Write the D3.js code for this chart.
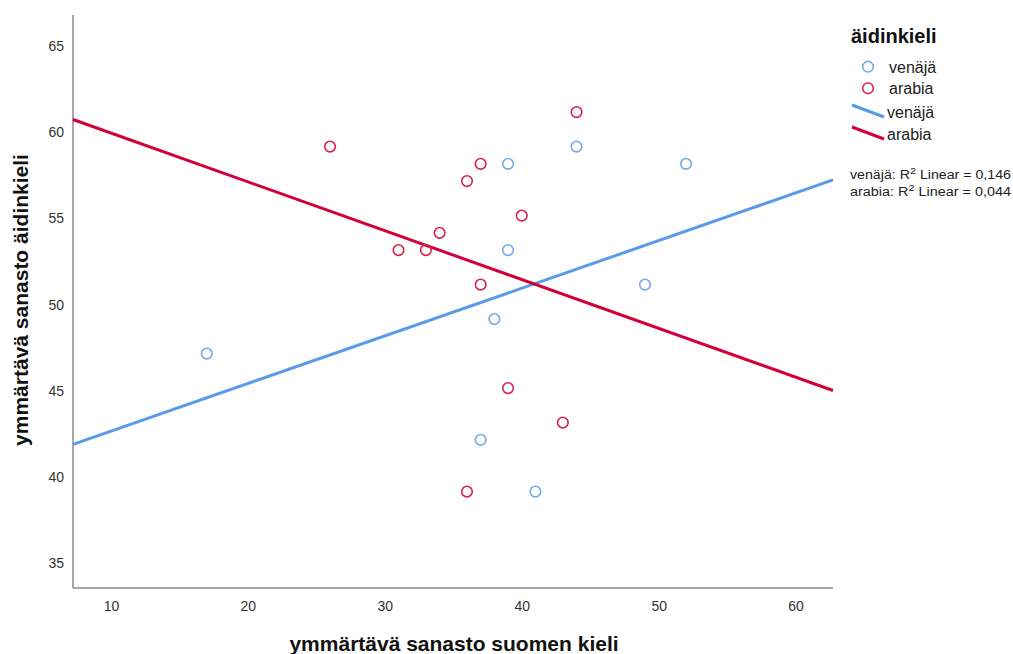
<!DOCTYPE html>
<html><head><meta charset="utf-8">
<script src="https://cdn.jsdelivr.net/npm/d3@7"></script>
<style>body{margin:0;background:#fff}svg{font-family:"Liberation Sans",Arial,sans-serif}</style>
</head><body>
<svg id="c" width="1013" height="654"></svg>
<script>
const venajaX = [17,37,38,39,39,41,44,49,52];
const venajaY = [47,42,49,53,58,39,59,51,58];
const arabiaX = [26,31,33,34,36,37,37,40,44,39,43,36];
const arabiaY = [59,53,53,54,57,58,51,55,61,45,43,39];
const xTicks = [10,20,30,40,50,60];
const yTicks = [35,40,45,50,55,60,65];
const groups = ["venäjä","arabia"];
const r2Labels = ["0,146","0,044"];

const svg = d3.select("#c");
const L=73, R=833, T=15, B=588;
const x = d3.scaleLinear().domain([7.23,62.73]).range([L,R]);
const y = d3.scaleLinear().domain([33.41,66.63]).range([B,T]);
const ptCol = ["#78a8ee","#d9244b"];
const lnCol = ["#5a9ae8","#d2003a"];

function fit(xs,ys){
  const n=xs.length, mx=d3.mean(xs), my=d3.mean(ys);
  let sxy=0,sxx=0;
  for(let i=0;i<n;i++){sxy+=(xs[i]-mx)*(ys[i]-my);sxx+=(xs[i]-mx)**2;}
  const b=sxy/sxx; return {b, a:my-b*mx};
}

// axes
const xAxis = d3.axisBottom(x).tickValues(xTicks).tickSize(0).tickPadding(13);
const yAxis = d3.axisLeft(y).tickValues(yTicks).tickSize(0).tickPadding(9);
const gx = svg.append("g").attr("transform",`translate(0,${B})`).call(xAxis);
const gy = svg.append("g").attr("transform",`translate(${L},0)`).call(yAxis);
[gx,gy].forEach(g=>{
  g.select(".domain").attr("stroke","#8a8a8a").attr("stroke-width",1.5);
  g.selectAll("text").attr("font-size",14).attr("fill","#333").attr("font-family","Liberation Sans, Arial, sans-serif");
});
gy.selectAll("text").attr("dy","0.52em");
gy.select(".domain").attr("d",`M0,${T}V${B}`);
gx.select(".domain").attr("d",`M${L},0H${R}`);

const sets=[[venajaX,venajaY],[arabiaX,arabiaY]];
// lines
sets.forEach((s,i)=>{
  const f=fit(s[0],s[1]);
  const d0=x.domain();
  svg.append("line").attr("x1",x(d0[0])).attr("y1",y(f.a+f.b*d0[0]))
    .attr("x2",x(d0[1])).attr("y2",y(f.a+f.b*d0[1]))
    .attr("stroke",lnCol[i]).attr("stroke-width",3);
});
// points
sets.forEach((s,i)=>{
  svg.append("g").selectAll("circle").data(s[0].map((v,j)=>[v,s[1][j]])).join("circle")
    .attr("cx",d=>x(d[0])).attr("cy",d=>y(d[1])).attr("r",5.3)
    .attr("fill","none").attr("stroke",ptCol[i]).attr("stroke-width",1.6);
});

// axis titles
svg.append("text").attr("x",454).attr("y",651).attr("text-anchor","middle")
  .attr("font-size",21).attr("font-weight","bold").attr("fill","#111").text("ymmärtävä sanasto suomen kieli");
svg.append("text").attr("transform","translate(28,300) rotate(-90)").attr("text-anchor","middle")
  .attr("font-size",21).attr("font-weight","bold").attr("fill","#111").text("ymmärtävä sanasto äidinkieli");

// legend
svg.append("text").attr("x",851).attr("y",43).attr("font-size",20).attr("font-weight","bold").attr("fill","#111").text("äidinkieli");
groups.forEach((g,i)=>{
  const yy=66.7+i*21.6;
  svg.append("circle").attr("cx",868).attr("cy",yy).attr("r",5.3).attr("fill","none").attr("stroke",ptCol[i]).attr("stroke-width",1.6);
  svg.append("text").attr("x",889).attr("y",yy+6).attr("font-size",16).attr("fill","#222").text(g);
});
groups.forEach((g,i)=>{
  const yy=117.5+i*22;
  svg.append("line").attr("x1",852).attr("y1",yy-12.5).attr("x2",884).attr("y2",yy-0.5).attr("stroke",lnCol[i]).attr("stroke-width",3);
  svg.append("text").attr("x",887).attr("y",yy).attr("font-size",16).attr("fill","#222").text(g);
});
groups.forEach((g,i)=>{
  const t=svg.append("text").attr("x",850).attr("y",179+i*17).attr("font-size",12.5).attr("fill","#222")
    .attr("textLength",161).attr("lengthAdjust","spacingAndGlyphs");
  t.append("tspan").text(g+": R");
  t.append("tspan").attr("dy",-5).attr("font-size",9.5).text("2");
  t.append("tspan").attr("dy",5).text(" Linear = "+r2Labels[i]);
});
</script>
</body></html>
